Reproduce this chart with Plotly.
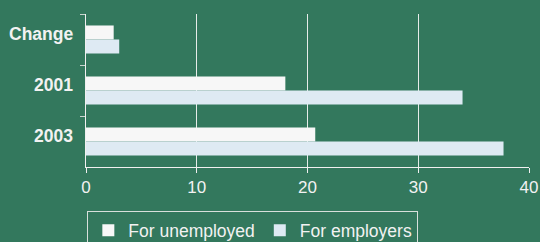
import plotly.graph_objects as go

categories = ["Change", "2001", "2003"]
unemployed = [2.5, 18.0, 20.7]
employers = [3.0, 34.0, 37.7]
series_names = ["For unemployed", "For employers"]
x_ticks = [0, 10, 20, 30, 40]

BG = "#33785d"
FONT = "Liberation Sans, Arial, sans-serif"

fig = go.Figure()
fig.add_trace(go.Bar(y=categories, x=unemployed, orientation="h", name=series_names[0],
                     marker=dict(color="#f7f7f7", line=dict(width=0))))
fig.add_trace(go.Bar(y=categories, x=employers, orientation="h", name=series_names[1],
                     marker=dict(color="#deeaf3", line=dict(width=0))))

fig.update_layout(
    width=540, height=242,
    paper_bgcolor=BG, plot_bgcolor=BG,
    margin=dict(l=86, r=11, t=14, b=75, autoexpand=False),
    barmode="group", bargap=0.45, bargroupgap=0,
    font=dict(family=FONT, color="#f2f2f2", size=17),
    showlegend=True,
    legend=dict(orientation="h", x=0.003, y=-0.29, xanchor="left", yanchor="top",
                bordercolor="#d8e0dc", borderwidth=1, bgcolor="rgba(0,0,0,0)",
                font=dict(size=17.5, color="#f2f2f2"), traceorder="normal",
                itemwidth=30),
    xaxis=dict(range=[0, 40], tickvals=x_ticks, showgrid=True, gridcolor="#e6ece9", gridwidth=1,
               zeroline=False, showline=True, linecolor="#f0f0f0", linewidth=1, automargin=False,
               ticks="outside", ticklen=5, tickcolor="#f0f0f0", tickfont=dict(size=17)),
    yaxis=dict(type="category", autorange="reversed", showline=True, linecolor="#f0f0f0",
               linewidth=1, ticks="outside", ticklen=5, tickcolor="#c8d4ce",
               tickson="boundaries", showgrid=False, automargin=False, showticklabels=False,
               categoryorder="array", categoryarray=categories),
)

for i, c in enumerate(categories):
    fig.add_annotation(
        x=0, xref="paper", xanchor="right", xshift=-11,
        y=i, yref="y", yanchor="middle", yshift=6,
        text="<b>%s</b>" % c, showarrow=False,
        font=dict(size=17.5, family=FONT, color="#f2f2f2"),
    )

fig.write_html(
    "out.html",
    config={"displayModeBar": False},
    post_script="document.body.style.margin='0';document.body.style.background='%s';" % BG,
)
